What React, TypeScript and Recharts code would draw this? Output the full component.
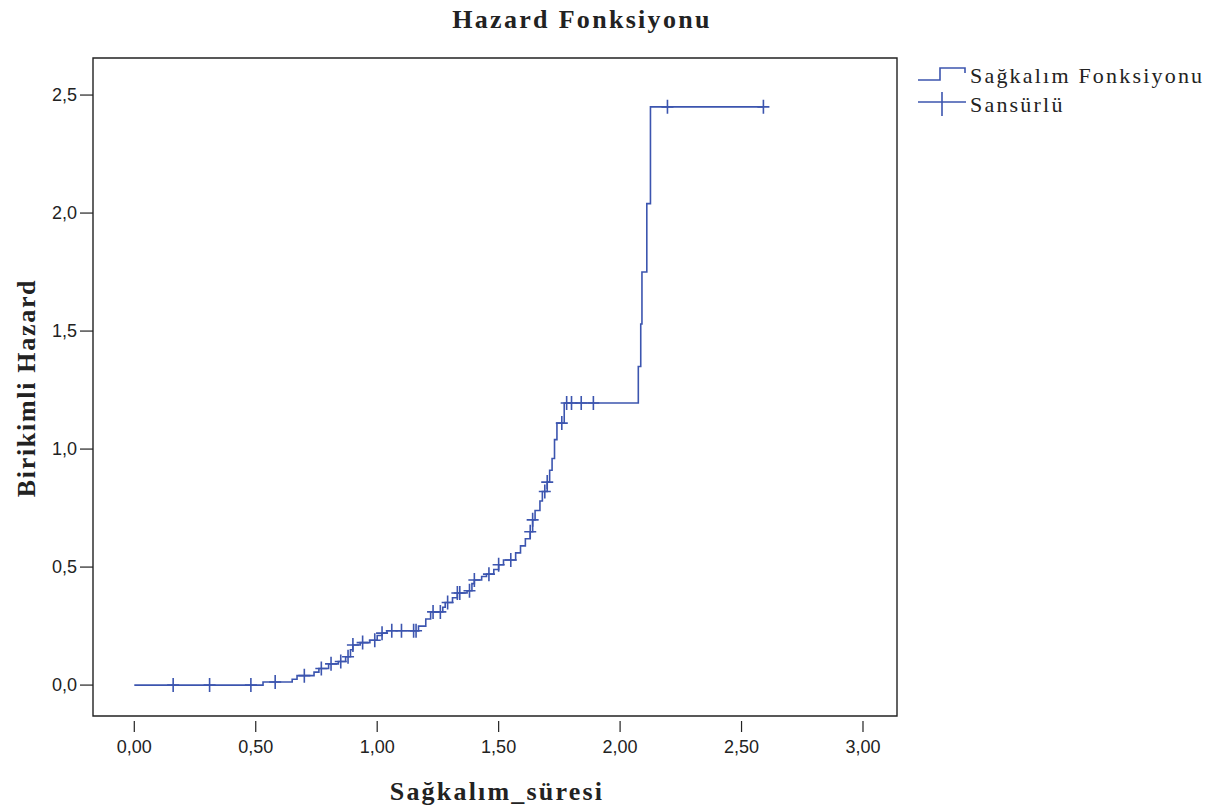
import React from 'react';
import { ComposedChart, Line, Scatter, XAxis, YAxis, ReferenceArea } from 'recharts';

// ---- data ----
const eventTimes = [0, 0.53, 0.65, 0.67, 0.74, 0.76, 0.8, 0.84, 0.87, 0.89, 0.9, 0.93, 0.97, 1.0, 1.02, 1.04, 1.17, 1.2, 1.22, 1.27, 1.28, 1.31, 1.33, 1.37, 1.39, 1.4, 1.43, 1.45, 1.48, 1.5, 1.52, 1.57, 1.59, 1.61, 1.63, 1.64, 1.65, 1.67, 1.68, 1.7, 1.71, 1.72, 1.73, 1.74, 1.77, 2.075, 2.085, 2.09, 2.11, 2.125, 2.59];
const cumHazard = [0, 0.013, 0.025, 0.04, 0.055, 0.07, 0.09, 0.1, 0.12, 0.15, 0.17, 0.18, 0.19, 0.21, 0.22, 0.23, 0.25, 0.28, 0.31, 0.33, 0.35, 0.37, 0.39, 0.4, 0.43, 0.445, 0.46, 0.47, 0.49, 0.51, 0.53, 0.56, 0.59, 0.62, 0.65, 0.7, 0.74, 0.78, 0.82, 0.86, 0.91, 0.96, 1.04, 1.11, 1.195, 1.35, 1.53, 1.75, 2.04, 2.45, 2.45];
const censorTimes = [0.16, 0.31, 0.48, 0.58, 0.7, 0.77, 0.81, 0.85, 0.88, 0.9, 0.94, 0.99, 1.02, 1.06, 1.1, 1.15, 1.16, 1.23, 1.26, 1.29, 1.33, 1.34, 1.38, 1.4, 1.46, 1.5, 1.55, 1.63, 1.64, 1.69, 1.7, 1.76, 1.78, 1.8, 1.84, 1.89, 2.195, 2.59];
const xTicks = [0, 0.5, 1, 1.5, 2, 2.5, 3];
const yTicks = [0, 0.5, 1, 1.5, 2, 2.5];
const xDomain = [-0.17, 3.14];
const yDomain = [-0.131, 2.657];

const title = 'Hazard Fonksiyonu';
const xTitle = 'Sağkalım_süresi';
const yTitle = 'Birikimli Hazard';
const legendLabels = ['Sağkalım Fonksiyonu', 'Sansürlü'];

const stepData = eventTimes.map((t, i) => ({ t, h: cumHazard[i] }));
const hazardAt = (t: number) => {
  let h = 0;
  for (let i = 0; i < eventTimes.length; i++) if (eventTimes[i] <= t + 1e-9) h = cumHazard[i];
  return h;
};
const censorData = censorTimes.map((t) => ({ t, h: hazardAt(t) }));

const BLUE = '#3C55AF';
const INK = '#222';
const SERIF = '"Liberation Serif", "Times New Roman", serif';
const SANS = '"Liberation Sans", Arial, sans-serif';

const fmtX = (v: number) => v.toFixed(2).replace('.', ',');
const fmtY = (v: number) => v.toFixed(1).replace('.', ',');

const XTick = (props: any) => {
  const { x, y, payload } = props;
  return (
    <g>
      <line x1={x} x2={x} y1={y + 5} y2={y + 16} stroke={INK} strokeWidth={1.2} />
      <text x={x} y={y + 37} textAnchor="middle" fontFamily={SANS} fontSize={18} fill={INK}>
        {fmtX(payload.value)}
      </text>
    </g>
  );
};

const YTick = (props: any) => {
  const { x, y, payload } = props;
  return (
    <g>
      <line x1={x - 13} x2={x} y1={y} y2={y} stroke={INK} strokeWidth={1.2} />
      <text x={x - 16} y={y + 6} textAnchor="end" fontFamily={SANS} fontSize={18} fill={INK}>
        {fmtY(payload.value)}
      </text>
    </g>
  );
};

const Cross = (props: any) => {
  const { cx, cy } = props;
  if (cx == null || cy == null) return null;
  return (
    <path d={`M${cx - 6},${cy}H${cx + 6}M${cx},${cy - 7}V${cy + 7}`} stroke={BLUE} strokeWidth={1.6} fill="none" />
  );
};

export default function App() {
  return (
    <div style={{ position: 'absolute', left: 0, top: 0, width: 1218, height: 812, background: '#fff' }}>
      <ComposedChart width={1218} height={812} margin={{ top: 58, right: 321, bottom: 0, left: 0 }}>
        <XAxis
          type="number"
          dataKey="t"
          domain={xDomain}
          ticks={xTicks}
          allowDataOverflow
          axisLine={false}
          tickLine={false}
          tickSize={0}
          tickMargin={0}
          height={96}
          tick={<XTick />}
          interval={0}
        />
        <YAxis
          type="number"
          dataKey="h"
          domain={yDomain}
          ticks={yTicks}
          allowDataOverflow
          axisLine={false}
          tickLine={false}
          tickSize={0}
          tickMargin={0}
          width={93}
          tick={<YTick />}
          interval={0}
        />
        <ReferenceArea
          x1={xDomain[0]}
          x2={xDomain[1]}
          y1={yDomain[0]}
          y2={yDomain[1]}
          fill="none"
          fillOpacity={0}
          stroke={INK}
          strokeWidth={1.4}
          ifOverflow="visible"
        />
        <Line
          data={stepData}
          dataKey="h"
          type="stepAfter"
          stroke={BLUE}
          strokeWidth={1.6}
          dot={false}
          activeDot={false}
          isAnimationActive={false}
          legendType="none"
        />
        <Scatter data={censorData} dataKey="h" shape={<Cross />} isAnimationActive={false} legendType="none" />
      </ComposedChart>
      <svg width={1218} height={812} style={{ position: 'absolute', left: 0, top: 0, pointerEvents: 'none' }}>
        <text x={582} y={28} textAnchor="middle" fontFamily={SERIF} fontWeight="bold" fontSize={26} letterSpacing={2.3} fill={INK}>
          {title}
        </text>
        <text x={497} y={800} textAnchor="middle" fontFamily={SERIF} fontWeight="bold" fontSize={26} letterSpacing={2.2} fill={INK}>
          {xTitle}
        </text>
        <text
          x={0}
          y={0}
          transform="translate(35,388) rotate(-90)"
          textAnchor="middle"
          fontFamily={SERIF}
          fontWeight="bold"
          fontSize={26}
          letterSpacing={1.7}
          fill={INK}
        >
          {yTitle}
        </text>
        <g>
          <path d="M918,80H940V68H965V73" stroke={BLUE} strokeWidth={1.6} fill="none" />
          <text x={970} y={83} fontFamily={SERIF} fontSize={22} letterSpacing={2.2} fill={INK}>{legendLabels[0]}</text>
          <path d="M918,102H966M942,92V116" stroke={BLUE} strokeWidth={1.6} fill="none" />
          <text x={970} y={112} fontFamily={SERIF} fontSize={22} letterSpacing={2.2} fill={INK}>{legendLabels[1]}</text>
        </g>
      </svg>
    </div>
  );
}
